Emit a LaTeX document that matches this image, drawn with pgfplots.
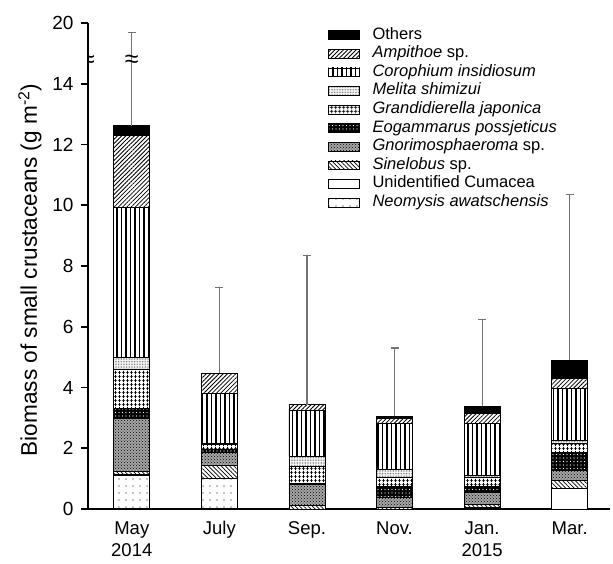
\documentclass[border=0pt]{standalone}
\usepackage{fontspec}
\setmainfont{Liberation Sans}
\usepackage{pgfplots}
\pgfplotsset{compat=1.18}
\usepackage{pgfplotstable}
\usetikzlibrary{patterns,patterns.meta}

\pgfplotstableread{
x Neo Cum Sin Gno Eog Gra Mel Cor Amp Oth
0 1.10 0.03 0.10 1.75 0.33 1.30 0.37 4.95 2.37 0.32
1 1.00 0.02 0.43 0.40 0.12 0.15 0.03 1.65 0.67 0.00
2 0.00 0.00 0.12 0.68 0.05 0.57 0.32 1.51 0.19 0.00
3 0.00 0.00 0.05 0.35 0.35 0.30 0.26 1.51 0.16 0.08
4 0.03 0.02 0.10 0.40 0.20 0.30 0.06 1.71 0.33 0.23
5 0.00 0.69 0.26 0.33 0.59 0.30 0.09 1.71 0.33 0.59
}\bio

% error bars: top of bar and upper error (plotted scale; 20 is drawn at 16)
\pgfplotstableread{
x top err
0 12.62 3.08
1 4.47 2.83
2 3.44 4.91
3 3.05 2.25
4 3.38 2.87
5 4.89 5.46
}\errs

\pgfplotsset{
  base/.style={
    scale only axis, width=522pt, height=486pt,
    xmin=-0.5, xmax=5.46, ymin=0, ymax=16,
  },
}

\begin{document}
\begin{tikzpicture}
\begin{axis}[base,
  ybar stacked, bar width=36pt,
  axis lines*=left,
  axis line style={line width=1.6pt},
  ytick={0,2,4,6,8,10,12,14,16},
  yticklabels={0,2,4,6,8,10,12,14,20},
  xtick={0,1,2,3,4,5},
  xticklabels={{May\\2014},July,Sep.,Nov.,{Jan.\\2015},Mar.},
  xticklabel style={align=center, font=\fontsize{18.5}{22.5}\selectfont, yshift=-2pt},
  yticklabel style={font=\fontsize{19}{22}\selectfont, xshift=-4pt},
  /pgf/number format/assume math mode=true,
  tick style={line width=1.6pt, black},
  major tick length=7pt,
  tick align=outside,
  x tick style={draw=none},
  ylabel={Biomass of small crustaceans (g m\textsuperscript{-2})},
  every axis y label/.style={at={([xshift=-58pt,yshift=-4pt]axis description cs:0,0.5)}, rotate=90, anchor=center,
    font=\fontsize{22.6}{26}\selectfont},
  reverse legend,
  legend cell align=left,
  legend style={at={(0.46,0.994)}, anchor=north west, draw=none, fill=none,
    inner sep=0pt, font=\fontsize{16.5}{19}\selectfont, row sep=0.6pt,
    nodes={inner sep=1.5pt, text height=11.5pt, text depth=3.5pt}},
  legend image code/.code={\draw[#1, line width=0.8pt] (0pt,-4.4pt) rectangle (31pt,4.4pt);
     \path (42pt,0pt);},
  every axis plot/.append style={draw=black, line width=0.7pt},
]
\addplot[fill=white, pattern={Dots[distance=7pt, radius=0.7pt]}, pattern color=black] table[x=x, y=Neo] {\bio};
\addlegendentry{\textit{Neomysis awatschensis}}
\addplot[fill=white] table[x=x, y=Cum] {\bio};
\addlegendentry{Unidentified Cumacea}
\addplot[fill=white, postaction={pattern={Lines[angle=-45, distance=3pt, line width=0.7pt]}}] table[x=x, y=Sin] {\bio};
\addlegendentry{\textit{Sinelobus} sp.}
\addplot[fill=gray!70, postaction={pattern=crosshatch dots, pattern color=black}] table[x=x, y=Gno] {\bio};
\addlegendentry{\textit{Gnorimosphaeroma} sp.}
\addplot[fill=black, postaction={pattern={Dots[distance=3.5pt, radius=0.6pt]}, pattern color=white}] table[x=x, y=Eog] {\bio};
\addlegendentry{\textit{Eogammarus possjeticus}}
\addplot[fill=white, postaction={pattern={Hatch[angle=0, distance=4pt, line width=0.9pt]}}] table[x=x, y=Gra] {\bio};
\addlegendentry{\textit{Grandidierella japonica}}
\addplot[fill=white, postaction={pattern={Dots[distance=1.6pt, radius=0.45pt]}, pattern color=black!65}] table[x=x, y=Mel] {\bio};
\addlegendentry{\textit{Melita shimizui}}
\addplot[fill=white, postaction={pattern={Lines[angle=90, distance=4.5pt, line width=1.1pt]}}] table[x=x, y=Cor] {\bio};
\addlegendentry{\textit{Corophium insidiosum}}
\addplot[fill=white, postaction={pattern={Lines[angle=45, distance=3pt, line width=0.8pt]}}] table[x=x, y=Amp] {\bio};
\addlegendentry{\textit{Ampithoe} sp.}
\addplot[fill=black] table[x=x, y=Oth] {\bio};
\addlegendentry{Others}
\end{axis}

\begin{axis}[base, hide axis]
\addplot[draw=none, mark=none, forget plot,
  error bars/.cd, y dir=plus, y explicit,
  error bar style={draw=black!55, line width=1.1pt},
  error mark options={rotate=90, mark size=4pt, draw=black!55, line width=1.1pt}]
  table[x=x, y=top, y error=err] {\errs};
\node[font=\fontsize{25}{25}\selectfont] at (axis cs:-0.5,14.75) {≈};
\node[font=\fontsize{25}{25}\selectfont] at (axis cs:0,14.75) {≈};
\end{axis}
\pgfresetboundingbox
\path ([shift={(-88pt,-54pt)}]current axis.south west) rectangle ([shift={(3pt,23pt)}]current axis.north east);
\end{tikzpicture}
\end{document}
